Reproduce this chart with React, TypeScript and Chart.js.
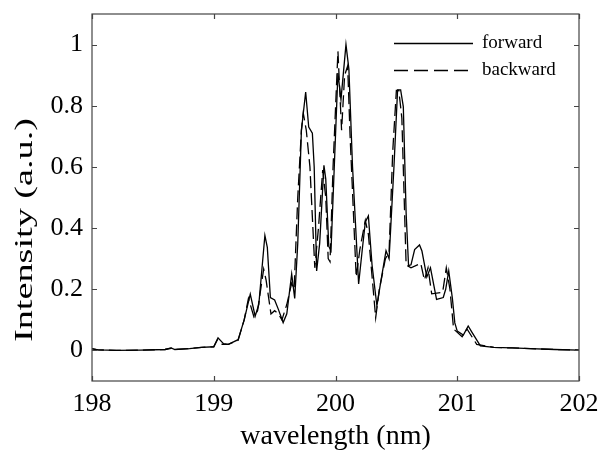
import React, { useEffect, useRef } from "react";
import { Chart, registerables } from "chart.js";

Chart.register(...registerables);

const forwardWl = [
  198.0, 198.05, 198.2, 198.4, 198.6, 198.65, 198.68, 198.8, 198.9, 199.0,
  199.035, 199.08, 199.12, 199.2, 199.25, 199.3, 199.34, 199.37, 199.42, 199.44,
  199.465, 199.5, 199.53, 199.57, 199.6, 199.64, 199.665, 199.69, 199.72, 199.755,
  199.78, 199.81, 199.825, 199.845, 199.87, 199.905, 199.92, 199.945, 199.963, 199.985,
  200.02, 200.045, 200.086, 200.11, 200.14, 200.19, 200.22, 200.245, 200.27, 200.3,
  200.34, 200.37, 200.415, 200.44, 200.48, 200.51, 200.535, 200.557, 200.58, 200.6,
  200.62, 200.65, 200.69, 200.71, 200.75, 200.78, 200.83, 200.885, 200.905, 200.93, 200.96,
  200.98, 201.0, 201.05, 201.09, 201.12, 201.19, 201.3, 201.45, 201.6, 201.8, 202.0,
];
const forwardI = [
  0.005, 0.002, 0.0, 0.001, 0.003, 0.008, 0.003, 0.006, 0.01, 0.012,
  0.041, 0.022, 0.02, 0.035, 0.1, 0.184, 0.112, 0.15, 0.376, 0.337,
  0.173, 0.165, 0.135, 0.091, 0.12, 0.25, 0.17, 0.35, 0.72, 0.845,
  0.73, 0.71, 0.6, 0.26, 0.35, 0.605, 0.56, 0.34, 0.326, 0.55,
  0.907, 0.82, 1.0, 0.92, 0.6, 0.217, 0.33, 0.42, 0.44, 0.28,
  0.146, 0.22, 0.326, 0.3, 0.6, 0.852, 0.852, 0.797, 0.45, 0.277,
  0.28, 0.33, 0.345, 0.325, 0.24, 0.27, 0.167, 0.173, 0.2, 0.26, 0.17,
  0.09, 0.063, 0.05, 0.08, 0.06, 0.015, 0.01, 0.008, 0.006, 0.003, 0.001,
];

const backwardWl = [
  198.0, 198.05, 198.2, 198.4, 198.6, 198.65, 198.68, 198.8, 198.9, 199.0,
  199.03, 199.07, 199.12, 199.2, 199.25, 199.285, 199.33, 199.36, 199.41, 199.43,
  199.47, 199.5, 199.53, 199.56, 199.6, 199.64, 199.66, 199.69, 199.72, 199.735,
  199.76, 199.79, 199.83, 199.86, 199.895, 199.92, 199.94, 199.955, 199.98, 200.02,
  200.05, 200.075, 200.1, 200.12, 200.17, 200.2, 200.245, 200.27, 200.33, 200.36,
  200.41, 200.44, 200.47, 200.5, 200.52, 200.545, 200.58, 200.62, 200.7, 200.73,
  200.76, 200.79, 200.88, 200.91, 200.94, 200.97, 201.04, 201.08, 201.16, 201.3,
  201.45, 201.6, 201.8, 202.0,
];
const backwardI = [
  0.006, 0.002, 0.0, 0.001, 0.003, 0.007, 0.003, 0.006, 0.01, 0.012,
  0.035, 0.02, 0.02, 0.033, 0.1, 0.17, 0.11, 0.13, 0.266, 0.23,
  0.119, 0.13, 0.12, 0.1, 0.15, 0.22, 0.2, 0.5, 0.72, 0.776,
  0.72, 0.6, 0.27, 0.4, 0.59, 0.5, 0.3, 0.29, 0.6, 0.978,
  0.72, 0.9, 0.93, 0.7, 0.24, 0.33, 0.425, 0.38, 0.107, 0.2,
  0.3, 0.32, 0.65, 0.85, 0.85, 0.76, 0.28, 0.27, 0.285, 0.23,
  0.27, 0.185, 0.19, 0.27, 0.2, 0.07, 0.045, 0.07, 0.02, 0.01,
  0.008, 0.006, 0.003, 0.001,
];

const xTicks = [198, 199, 200, 201, 202];
const yTicks = [0, 0.2, 0.4, 0.6, 0.8, 1];
const seriesNames = ["forward", "backward"];
const xTitle = "wavelength (nm)";
const yTitle = "Intensity (a.u.)";

const FONT = "'Liberation Serif', 'Times New Roman', serif";

const framePlugin = {
  id: "frameAndText",
  afterDraw(chart: any) {
    const { ctx, chartArea } = chart;
    const { left, right, top, bottom } = chartArea;
    const xs = chart.scales.x;
    const ys = chart.scales.y;
    ctx.save();
    ctx.strokeStyle = "#444";
    ctx.lineWidth = 1.2;
    ctx.strokeRect(left, top, right - left, bottom - top);
    ctx.beginPath();
    for (const v of xTicks) {
      const p = Math.round(xs.getPixelForValue(v)) + 0.5;
      ctx.moveTo(p, bottom);
      ctx.lineTo(p, bottom - 5);
      ctx.moveTo(p, top);
      ctx.lineTo(p, top + 5);
    }
    for (const v of yTicks) {
      const p = Math.round(ys.getPixelForValue(v)) + 0.5;
      ctx.moveTo(left, p);
      ctx.lineTo(left + 5, p);
      ctx.moveTo(right, p);
      ctx.lineTo(right - 5, p);
    }
    ctx.stroke();

    // titles
    ctx.fillStyle = "#000";
    ctx.font = `28px ${FONT}`;
    ctx.textAlign = "center";
    ctx.textBaseline = "middle";
    ctx.fillText(xTitle, (left + right) / 2, 437);
    ctx.save();
    ctx.font = `26px ${FONT}`;
    const w = ctx.measureText(yTitle).width;
    ctx.translate(25, 230);
    ctx.rotate(-Math.PI / 2);
    ctx.scale(224 / w, 1);
    ctx.fillText(yTitle, 0, 0);
    ctx.restore();

    // legend
    ctx.strokeStyle = "#000";
    ctx.lineWidth = 1.3;
    ctx.beginPath();
    ctx.moveTo(394, 43.5);
    ctx.lineTo(473, 43.5);
    ctx.stroke();
    ctx.setLineDash([14, 6]);
    ctx.beginPath();
    ctx.moveTo(394, 70.5);
    ctx.lineTo(473, 70.5);
    ctx.stroke();
    ctx.setLineDash([]);
    ctx.font = `19px ${FONT}`;
    ctx.textAlign = "left";
    ctx.fillText(seriesNames[0], 482, 43);
    ctx.fillText(seriesNames[1], 482, 70);
    ctx.restore();
  },
};

const zeroPad = (s: any) => {
  s.paddingTop = 0;
  s.paddingBottom = 0;
  s.paddingLeft = 0;
  s.paddingRight = 0;
};

export default function App() {
  const ref = useRef<HTMLCanvasElement | null>(null);
  useEffect(() => {
    document.body.style.margin = "0";
    const canvas = ref.current;
    if (!canvas) return;
    const chart = new Chart(canvas, {
      type: "line",
      data: {
        datasets: [
          {
            label: seriesNames[0],
            data: forwardWl.map((x, i) => ({ x, y: forwardI[i] })),
            borderColor: "#000",
            borderWidth: 1.3,
            pointRadius: 0,
            tension: 0,
            fill: false,
          },
          {
            label: seriesNames[1],
            data: backwardWl.map((x, i) => ({ x, y: backwardI[i] })),
            borderColor: "#000",
            borderWidth: 1.3,
            borderDash: [12, 5],
            pointRadius: 0,
            tension: 0,
            fill: false,
          },
        ],
      },
      options: {
        animation: false,
        responsive: false,
        devicePixelRatio: 1,
        layout: { autoPadding: false, padding: { top: 14, right: 22, left: 0, bottom: 0 } },
        plugins: {
          legend: { display: false },
          tooltip: { enabled: false },
        },
        scales: {
          x: {
            type: "linear",
            min: 198,
            max: 202,
            afterBuildTicks: (s: any) => {
              s.ticks = xTicks.map((v) => ({ value: v }));
            },
            afterFit: (s: any) => {
              s.height = 72;
              zeroPad(s);
            },
            grid: { display: false, drawTicks: false },
            border: { display: false },
            ticks: {
              color: "#000",
              font: { family: FONT, size: 26 },
              padding: 8,
              maxRotation: 0,
              callback: (v: any) => String(v),
            },
          },
          y: {
            type: "linear",
            min: -0.1,
            max: 1.1,
            afterBuildTicks: (s: any) => {
              s.ticks = yTicks.map((v) => ({ value: v }));
            },
            afterFit: (s: any) => {
              s.width = 92;
              zeroPad(s);
            },
            grid: { display: false, drawTicks: false },
            border: { display: false },
            ticks: {
              color: "#000",
              font: { family: FONT, size: 26 },
              padding: 9,
              callback: (v: any) => String(Math.round(v * 10) / 10),
            },
          },
        },
      },
      plugins: [framePlugin],
    });
    return () => chart.destroy();
  }, []);
  return (
    <div style={{ width: 601, height: 453 }}>
      <canvas ref={ref} width={601} height={453} style={{ display: "block" }} />
    </div>
  );
}
